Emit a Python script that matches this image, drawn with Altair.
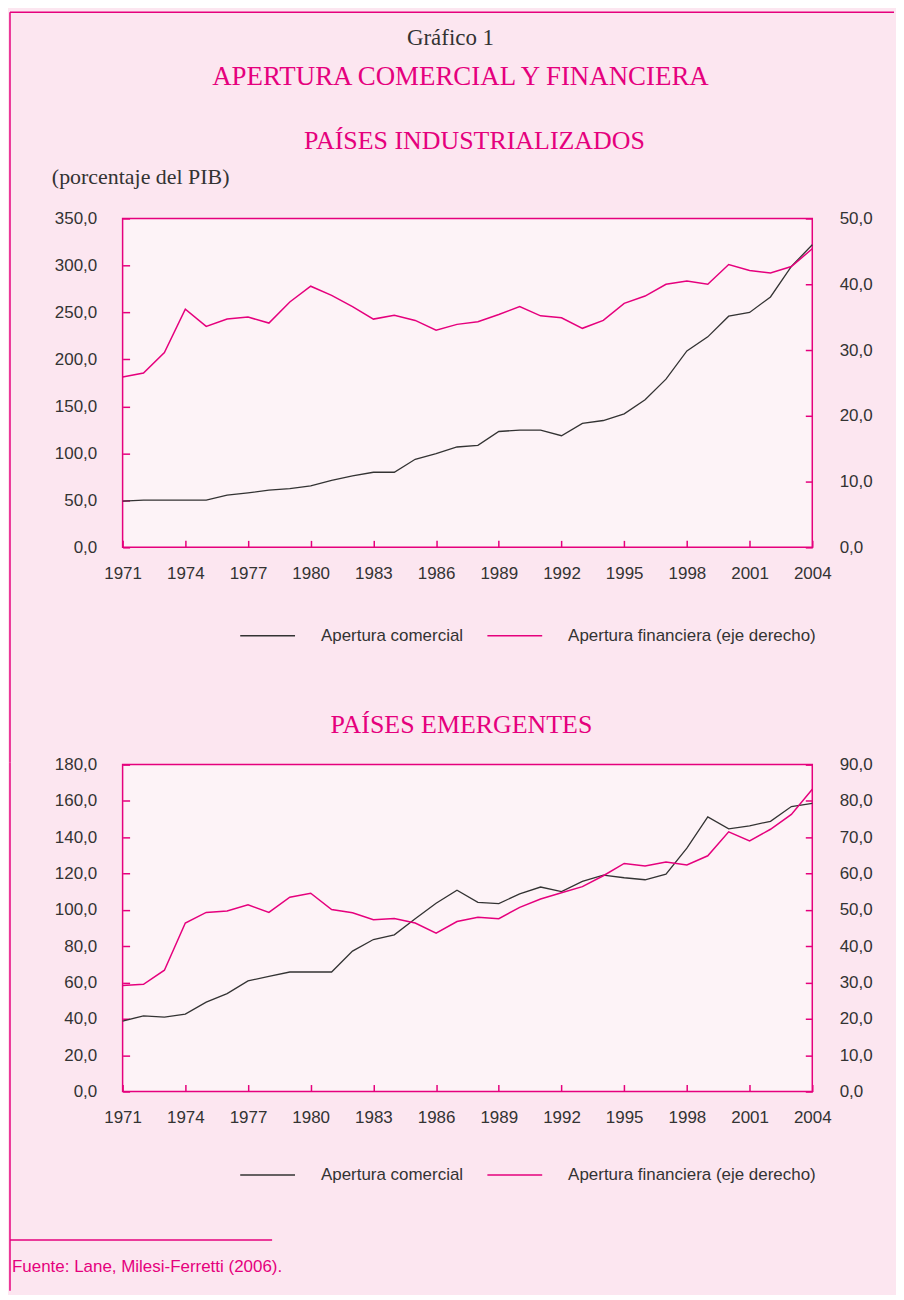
import altair as alt
import pandas as pd

# ---------------- data ----------------
years = [1971, 1972, 1973, 1974, 1975, 1976, 1977, 1978, 1979, 1980,
         1981, 1982, 1983, 1984, 1985, 1986, 1987, 1988, 1989, 1990,
         1991, 1992, 1993, 1994, 1995, 1996, 1997, 1998, 1999, 2000,
         2001, 2002, 2003, 2004]

series_names = ["Apertura comercial", "Apertura financiera (eje derecho)"]

ind_comercial = [49.1, 50.2, 50.2, 50.2, 50.2, 55.5, 58.0, 60.8, 62.6, 65.4,
                 71.4, 76.0, 79.9, 79.9, 93.7, 99.7, 106.8, 108.5, 123.3, 124.8,
                 124.8, 118.8, 131.9, 135.0, 142.1, 157.0, 179.0, 209.0, 224.0, 246.0,
                 250.0, 266.5, 299.0, 322.0]
ind_financiera = [25.9, 26.5, 29.6, 36.2, 33.6, 34.7, 35.0, 34.1, 37.3, 39.7,
                  38.3, 36.6, 34.7, 35.3, 34.5, 33.0, 33.9, 34.3, 35.4, 36.6,
                  35.2, 34.9, 33.3, 34.5, 37.1, 38.2, 40.0, 40.5, 40.0, 43.0,
                  42.1, 41.7, 42.7, 45.4]

emg_comercial = [38.8, 41.7, 41.0, 42.6, 49.2, 53.9, 60.9, 63.4, 65.8, 65.8,
                 65.8, 77.3, 83.7, 86.3, 95.1, 103.7, 110.8, 104.2, 103.5, 108.8,
                 112.6, 110.1, 115.7, 119.2, 117.7, 116.6, 119.7, 134.0, 151.2, 144.6,
                 146.3, 148.8, 156.9, 158.7]
emg_financiera = [29.2, 29.5, 33.4, 46.4, 49.3, 49.7, 51.4, 49.3, 53.5, 54.6,
                  50.1, 49.2, 47.3, 47.6, 46.4, 43.6, 46.8, 48.0, 47.6, 50.7,
                  53.0, 54.7, 56.4, 59.4, 62.8, 62.1, 63.2, 62.4, 64.9, 71.5,
                  69.0, 72.2, 76.3, 83.2]

x_tick_years = [1971, 1974, 1977, 1980, 1983, 1986, 1989, 1992, 1995, 1998, 2001, 2004]
ind_left_ticks = [0, 50, 100, 150, 200, 250, 300, 350]
ind_right_ticks = [0, 10, 20, 30, 40, 50]
emg_left_ticks = [0, 20, 40, 60, 80, 100, 120, 140, 160, 180]
emg_right_ticks = [0, 10, 20, 30, 40, 50, 60, 70, 80, 90]

chart_number = "Gráfico 1"
chart_title = "APERTURA COMERCIAL Y FINANCIERA"
panel_titles = ["PAÍSES INDUSTRIALIZADOS", "PAÍSES EMERGENTES"]
unit_note = "(porcentaje del PIB)"
source_note = "Fuente: Lane, Milesi-Ferretti (2006)."

# ---------------- style ----------------
PINK = "#e5007d"
INK = "#333333"
BG = "#fce6f0"
PLOT_BG = "#fdf3f7"
SANS = "Liberation Sans, Arial, sans-serif"
SERIF = "Liberation Serif, DejaVu Serif, serif"
COMMA = "replace(format(datum.value, '.1f'), '.', ',')"
W = 692
FS = 17


def text_layer(text, x, y, font, size, color, align="center"):
    return alt.Chart(pd.DataFrame({"t": [text]})).mark_text(
        font=font, fontSize=size, color=color, align=align, baseline="middle"
    ).encode(text="t:N", x=alt.value(x), y=alt.value(y))


def rule_layer(x, x2, y, y2):
    return alt.Chart(pd.DataFrame({"k": [0]})).mark_rule(
        color=PINK, strokeWidth=1.5
    ).encode(x=alt.value(x), x2=alt.value(x2), y=alt.value(y), y2=alt.value(y2))


def panel(com, fin, left_ticks, right_ticks, height, legend_y, extras):
    df_c = pd.DataFrame({"anio": years, "valor": com, "serie": series_names[0]})
    df_f = pd.DataFrame({"anio": years, "valor": fin, "serie": series_names[1]})

    legend = alt.Legend(
        title=None, orient="none", legendX=117, legendY=legend_y,
        direction="horizontal", symbolType="stroke", symbolSize=3025,
        symbolStrokeWidth=1.5, labelOffset=25, columnPadding=21,
        labelFont=SANS, labelFontSize=FS, labelColor=INK, labelLimit=0,
    )
    color = alt.Color(
        "serie:N",
        scale=alt.Scale(domain=series_names, range=[INK, PINK]),
        legend=legend,
    )
    x = alt.X(
        "anio:Q",
        scale=alt.Scale(domain=[years[0], years[-1]], nice=False, zero=False),
        axis=alt.Axis(values=x_tick_years, format="d", offset=-7, tickSize=7,
                      labelPadding=18, labelFlush=False, labelOverlap=False),
    )
    line_c = alt.Chart(df_c).mark_line(strokeWidth=1.3).encode(
        x=x,
        y=alt.Y("valor:Q",
                scale=alt.Scale(domain=[left_ticks[0], left_ticks[-1]], nice=False),
                axis=alt.Axis(orient="left", values=left_ticks, labelExpr=COMMA,
                              offset=-7, tickSize=7, labelPadding=26)),
        color=color,
    )
    line_f = alt.Chart(df_f).mark_line(strokeWidth=1.5).encode(
        x=x,
        y=alt.Y("valor:Q",
                scale=alt.Scale(domain=[right_ticks[0], right_ticks[-1]], nice=False),
                axis=alt.Axis(orient="right", values=right_ticks, labelExpr=COMMA,
                              offset=-7, tickSize=7, labelPadding=27)),
        color=color,
    )
    return alt.layer(line_c, line_f, *extras).resolve_scale(y="independent").properties(
        width=W, height=height
    )


top_extras = [
    rule_layer(-113, 774, -207, -207),
    rule_layer(-113, -113, -207, 546),
    text_layer(chart_number, 329, -181, SERIF, 23, INK),
    text_layer(chart_title, 339, -142, SERIF, 27, PINK),
    text_layer(panel_titles[0], 353, -78, SERIF, 26, PINK),
    text_layer(unit_note, -71, -42, SERIF, 22, INK, align="left"),
]
bottom_extras = [
    rule_layer(-113, -113, -2, 528),
    rule_layer(-113, 150, 477, 477),
    text_layer(panel_titles[1], 340, -40, SERIF, 26, PINK),
    text_layer(source_note, -111, 504, SANS, FS, PINK, align="left"),
]

p1 = panel(ind_comercial, ind_financiera, ind_left_ticks, ind_right_ticks, 330, 390, top_extras)
p2 = panel(emg_comercial, emg_financiera, emg_left_ticks, emg_right_ticks, 328, 383, bottom_extras)

chart = alt.vconcat(
    p1, p2, spacing=218, bounds="flush",
    padding={"left": 0, "top": 0, "right": 0, "bottom": 0},
).resolve_scale(
    color="independent"
).properties(
    background=BG
).configure_view(
    stroke=PINK, strokeWidth=1.5, fill=PLOT_BG
).configure_axis(
    labelFont=SANS, labelFontSize=FS, labelColor=INK, tickColor=PINK,
    tickWidth=1.5, domain=False, grid=False, title=None
)

chart.save("out.html", embed_options={"renderer": "svg", "actions": False})
